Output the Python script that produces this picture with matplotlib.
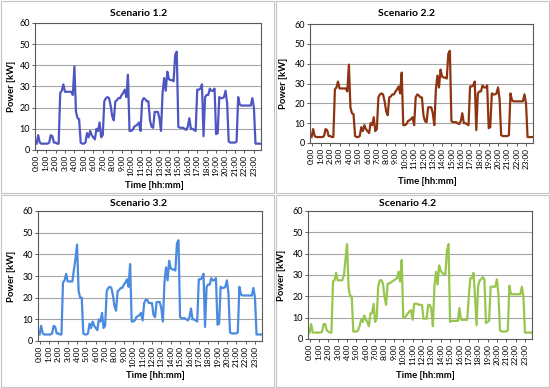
import numpy as np
import matplotlib.pyplot as plt
from matplotlib.patches import Rectangle

plt.rcParams['font.family'] = ['Lato', 'DejaVu Sans']

# power profiles, 10 min steps (6 values per hour)
s12 = [3, 7, 3.5, 3, 3, 3,
       3, 3, 3.5, 7, 6.5, 3.5,
       3.5, 3, 3, 27, 28, 31,
       27.5, 27.5, 27.5, 27.5, 27.5, 26,
       39.5, 18, 15, 14.5, 3.5, 3,
       3, 3.5, 8, 6, 9, 7,
       6, 5, 10, 9, 13, 6,
       7, 23, 24.5, 25, 24.5, 21,
       16, 14, 23, 23.5, 24.5, 24.5,
       26, 27, 28.5, 25, 35.5, 9,
       9, 9.5, 11, 11.5, 12, 13,
       9, 23, 24.5, 24, 23, 23,
       14, 11, 10.5, 18, 18, 18,
       15, 9, 27, 34, 28, 37,
       33.5, 33, 33, 32.5, 45, 46.5,
       11, 10.5, 10.5, 10.5, 10, 9.5,
       11, 15, 10, 10, 9.5, 9,
       28.5, 28.5, 29, 31, 6.5, 25,
       26, 26, 29, 28, 28, 29,
       7.5, 8, 25, 24.5, 24.5, 25,
       28, 22, 4, 3.5, 3.5, 3.5,
       3.5, 4, 25, 21.5, 21, 21,
       21, 21, 21, 21, 21, 24.5,
       20, 3, 3, 3, 3, 3]

# scenario 2.2 has the same profile as 1.2
s22 = list(s12)

s32 = [3, 7, 3.5, 3, 3, 3,
       3, 3, 3.5, 7, 6.5, 3.5,
       3.5, 3, 3, 27, 28, 31,
       27.5, 27.5, 27.5, 27.5, 33, 38,
       44.5, 23, 20, 20, 3.5, 3,
       3, 3.5, 8, 6, 9, 7,
       6, 5, 10, 9, 13, 6,
       7, 23, 24.5, 25, 24.5, 21,
       16, 14, 23, 23.5, 24.5, 24.5,
       26, 27, 28.5, 25, 35.5, 9,
       9, 9.5, 11, 11.5, 12, 13,
       9.5, 17.5, 19, 19, 17.5, 17.5,
       17.5, 12, 11, 18, 18, 18,
       15, 9, 27, 34, 28, 37,
       33.5, 33, 33, 32.5, 45, 46.5,
       11, 10.5, 10.5, 10.5, 10, 9.5,
       11, 15, 10, 10, 9.5, 9,
       28.5, 28.5, 29, 31, 6.5, 25,
       26, 26, 29, 28, 28, 29,
       7.5, 8, 25, 24.5, 24.5, 25,
       28, 22, 4, 3.5, 3.5, 3.5,
       3.5, 4, 25, 21.5, 21, 21,
       21, 21, 21, 21, 21, 24.5,
       20, 3, 3, 3, 3, 3]

s42 = [3, 7, 3, 3, 3, 3,
       3, 3, 3.5, 7, 7, 4,
       3.5, 3, 3, 27, 27.5, 31,
       27.5, 27.5, 27.5, 27.5, 30, 37,
       44.5, 24, 20, 20, 3.5, 3.5,
       3.5, 4, 6, 9, 8, 11,
       9, 8, 6, 12, 12, 16.5,
       8, 10, 25, 27.5, 27.5, 26,
       20, 16, 26, 26, 26.5, 27,
       27.5, 28, 28.5, 31.5, 27, 37,
       10, 10, 11, 12, 13, 13.5,
       9, 16.5, 16.5, 16.5, 16, 16,
       16, 9.5, 9.5, 9.5, 16, 16,
       14, 6, 25, 31.5, 25.5, 34.5,
       32, 31, 30.5, 30.5, 41.5, 44.5,
       8, 8.5, 8.5, 8.5, 8.5, 8.5,
       14.5, 9, 9, 9, 9, 9,
       20, 28.5, 28.5, 31, 20, 6.5,
       25, 27.5, 28, 29, 28, 7.5,
       8, 8.5, 24.5, 24.5, 24.5, 24.5,
       28, 21, 4, 3.5, 3.5, 3.5,
       3.5, 4, 25, 21, 21, 21,
       21, 21, 21, 21, 24.5, 20,
       3, 3, 3, 3, 3, 3]

titles = ['Scenario 1.2', 'Scenario 2.2', 'Scenario 3.2', 'Scenario 4.2']
series = [s12, s22, s32, s42]
colors = ['#4E56C2', '#8E3410', '#4A8BE0', '#98C64C']
hour_labels = [f'{h}:00' for h in range(24)]
t = np.arange(144) / 6.0

W, H = 550, 388
fig = plt.figure(figsize=(5.5, 3.88), dpi=100)

# panel frames (left, top, right, bottom) in px
frames = [(1, 1, 274, 193), (276, 1, 549, 193), (1, 195, 274, 387), (276, 195, 549, 387)]
# plot areas
boxes = [(35, 23, 261, 150), (310, 24, 533, 143), (38, 211, 262, 341), (308, 211, 532, 339)]
title_pos = [(139, 14), (407, 14), (138, 203), (408, 203)]
xlab_pos = [(154, 185), (427, 182), (155, 376), (425, 375)]
ylab_x = [12, 284, 12, 282]

for i in range(4):
    l, tp, r, b = frames[i]
    fig.add_artist(Rectangle((l / W, 1 - b / H), (r - l) / W, (b - tp) / H,
                             transform=fig.transFigure, fill=False,
                             edgecolor='#C4C4C4', lw=0.8))

    l, tp, r, b = boxes[i]
    ax = fig.add_axes([l / W, 1 - b / H, (r - l) / W, (b - tp) / H])
    ax.plot(t, series[i], color=colors[i], lw=1.6)
    ax.set_ylim(0, 60)
    ax.set_yticks(range(0, 61, 10))
    ax.set_xlim(-0.17, 23.75)
    ax.set_xticks(range(24))
    ax.set_xticklabels(hour_labels, rotation=90)
    ax.grid(axis='y', color='#A6A6A6', lw=0.8)
    ax.set_axisbelow(True)
    ax.tick_params(length=2, width=0.6, pad=1.5, colors='#404040', labelcolor='black')
    ax.tick_params(axis='y', labelsize=6.5)
    ax.tick_params(axis='x', labelsize=5.9)
    for sp in ax.spines.values():
        sp.set_color('#5A5A5A')
        sp.set_linewidth(0.8)

    cx, cy = title_pos[i]
    fig.text(cx / W, 1 - cy / H, titles[i], ha='center', va='center',
             fontsize=7.5, fontweight='bold')
    cx, cy = xlab_pos[i]
    fig.text(cx / W, 1 - cy / H, 'Time [hh:mm]', ha='center', va='center',
             fontsize=6.8, fontweight='bold')
    fig.text(ylab_x[i] / W, 1 - ((tp + b) / 2) / H, 'Power [kW]', ha='center', va='center',
             rotation=90, fontsize=6.8, fontweight='bold')

fig.savefig('out.png', dpi=100)
